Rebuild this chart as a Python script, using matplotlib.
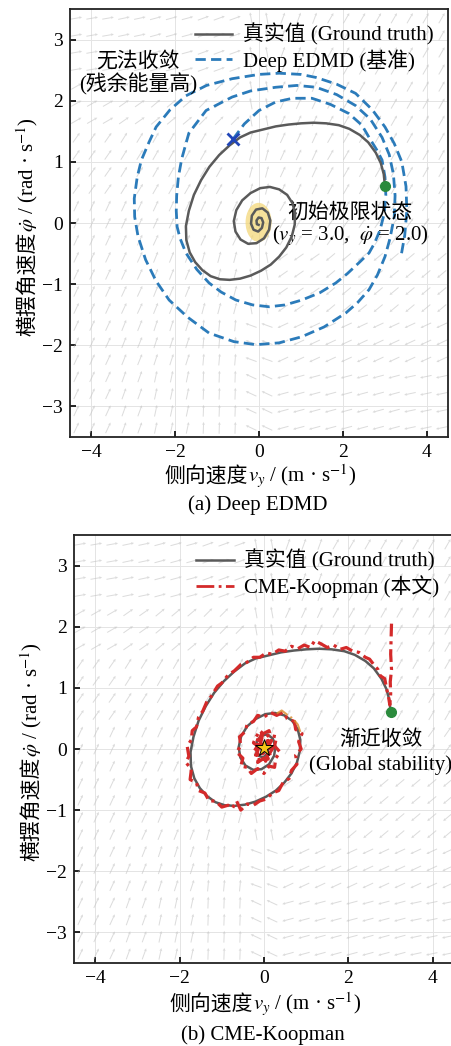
import numpy as np
import matplotlib
matplotlib.use('Agg')
import matplotlib.pyplot as plt
from matplotlib.patches import Ellipse
from matplotlib.lines import Line2D

plt.rcParams['font.family'] = ['Liberation Serif', 'Noto Sans CJK SC']
plt.rcParams['mathtext.fontset'] = 'stix'
plt.rcParams['axes.unicode_minus'] = True

W, H = 452, 1046

# ground truth trajectory (v_y, yaw rate)
GT_VY = [3.00, 2.97, 2.90, 2.78, 2.60, 2.40, 2.15, 1.90, 1.60, 1.30,
         1.00, 0.70, 0.40, 0.10, -0.20, -0.45, -0.70, -0.95, -1.18, -1.38,
         -1.55, -1.67, -1.74, -1.73, -1.65, -1.52, -1.35, -1.15, -0.93, -0.70,
         -0.45, -0.20, 0.05, 0.28, 0.48, 0.65, 0.78, 0.85, 0.86, 0.80,
         0.67, 0.48, 0.26, 0.03, -0.20, -0.40, -0.54, -0.60, -0.56, -0.44,
         -0.26, -0.06, 0.12, 0.24, 0.27, 0.21, 0.08, -0.07, -0.17, -0.19,
         -0.13, -0.02, 0.07, 0.10, 0.06, -0.01, -0.06, -0.05, -0.01]
GT_R = [0.60, 0.80, 0.98, 1.15, 1.32, 1.44, 1.54, 1.60, 1.63, 1.64,
        1.63, 1.61, 1.58, 1.53, 1.48, 1.40, 1.27, 1.11, 0.92, 0.70,
        0.46, 0.20, -0.05, -0.28, -0.48, -0.64, -0.77, -0.87, -0.92, -0.93,
        -0.91, -0.86, -0.78, -0.68, -0.55, -0.40, -0.22, -0.03, 0.15, 0.32,
        0.46, 0.55, 0.59, 0.57, 0.49, 0.37, 0.21, 0.03, -0.14, -0.27,
        -0.34, -0.33, -0.25, -0.11, 0.04, 0.17, 0.24, 0.22, 0.12, -0.01,
        -0.11, -0.14, -0.08, 0.01, 0.08, 0.09, 0.04, -0.02, -0.03]

# Deep EDMD prediction (diverging spiral)
ED_VY = [-0.62, -0.35, 0.00, 0.40, 0.80, 1.26, 1.70, 2.14, 2.45, 2.62,
         2.80, 2.93, 3.00, 3.02, 2.98, 2.88, 2.75, 2.62, 2.38, 2.10,
         1.83, 1.45, 1.02, 0.62, 0.24, -0.15, -0.55, -0.90, -1.19, -1.48,
         -1.74, -1.88, -1.95, -1.97, -1.96, -1.92, -1.84, -1.67, -1.26, -0.64,
         -0.20, 0.40, 0.90, 1.36, 1.85, 2.30, 2.65, 2.93, 3.10, 3.20,
         3.24, 3.22, 3.12, 3.00, 2.82, 2.62, 2.35, 2.07, 1.55, 1.02,
         0.48, -0.07, -0.60, -1.19, -1.70, -2.14, -2.45, -2.70, -2.88, -2.96,
         -2.97, -2.90, -2.80, -2.62, -2.45, -2.12, -1.74, -1.25, -0.64, 0.00,
         0.48, 1.00, 1.36, 1.85, 2.30, 2.70, 3.00, 3.22, 3.40, 3.50,
         3.52, 3.47, 3.38]
ED_R = [1.37, 1.62, 1.84, 1.98, 2.04, 2.04, 1.94, 1.79, 1.60, 1.40,
        1.20, 1.03, 0.75, 0.45, 0.15, -0.12, -0.33, -0.49, -0.65, -0.83,
        -0.98, -1.14, -1.26, -1.34, -1.37, -1.34, -1.26, -1.13, -0.98, -0.76,
        -0.49, -0.25, -0.06, 0.20, 0.45, 0.75, 1.05, 1.47, 1.84, 2.06,
        2.16, 2.22, 2.25, 2.22, 2.10, 1.92, 1.70, 1.40, 1.12, 0.80,
        0.45, 0.10, -0.25, -0.55, -0.85, -1.09, -1.30, -1.47, -1.70, -1.86,
        -1.96, -1.99, -1.94, -1.80, -1.54, -1.26, -0.95, -0.60, -0.22, 0.10,
        0.40, 0.75, 1.03, 1.32, 1.57, 1.85, 2.08, 2.25, 2.36, 2.43,
        2.45, 2.43, 2.38, 2.27, 2.12, 1.85, 1.57, 1.30, 1.00, 0.60,
        0.20, -0.20, -0.55]

# CME-Koopman prediction (noisy)
CK_VY = [3.02, 3.01, 3.00, 3.02, 2.99, 3.00, 2.98, 2.95, 2.90, 2.86,
         2.75, 2.70, 2.60, 2.50, 2.40, 2.25, 2.10, 1.95, 1.80, 1.65,
         1.50, 1.35, 1.20, 1.10, 0.95, 0.80, 0.65, 0.50, 0.35, 0.20,
         0.05, -0.10, -0.25, -0.40, -0.55, -0.70, -0.85, -1.00, -1.10, -1.25,
         -1.35, -1.45, -1.55, -1.60, -1.70, -1.72, -1.82, -1.78, -1.85, -1.72,
         -1.75, -1.60, -1.55, -1.40, -1.30, -1.15, -1.00, -0.85, -0.75, -0.65,
         -0.55, -0.40, -0.25, -0.10, 0.05, 0.20, 0.35, 0.45, 0.60, 0.65,
         0.78, 0.75, 0.88, 0.82, 0.90, 0.75, 0.72, 0.55, 0.45, 0.30,
         0.15, 0.00, -0.15, -0.25, -0.40, -0.45, -0.58, -0.55, -0.65, -0.50,
         -0.55, -0.40, -0.30, -0.15, 0.00, 0.12, 0.25, 0.28, 0.38, 0.25,
         0.30, 0.15, 0.12, -0.02, -0.10, -0.20, -0.25, -0.15, -0.25, -0.12,
         -0.15, 0.00, 0.08, 0.12, 0.20, 0.10, 0.15, 0.02, -0.05, -0.10,
         0.20, 0.12, 0.18, 0.06, 0.10, -0.02, -0.06, -0.12, -0.20, -0.16,
         -0.24, -0.14, -0.20, -0.10, -0.12, -0.02, 0.04, 0.08, 0.16, 0.12,
         0.20, 0.08, 0.12, 0.02, -0.04, -0.08, -0.14, -0.10, -0.04, 0.04,
         0.06, -0.02, 0.00]
CK_R = [2.05, 1.80, 1.55, 1.30, 1.10, 0.90, 0.72, 0.85, 1.00, 1.15,
        1.20, 1.30, 1.38, 1.47, 1.50, 1.58, 1.60, 1.66, 1.63, 1.70,
        1.66, 1.72, 1.77, 1.66, 1.70, 1.64, 1.68, 1.60, 1.62, 1.55,
        1.57, 1.50, 1.50, 1.42, 1.38, 1.28, 1.21, 1.08, 1.03, 0.86,
        0.78, 0.62, 0.52, 0.36, 0.30, 0.15, 0.05, -0.12, -0.22, -0.33,
        -0.50, -0.55, -0.68, -0.72, -0.85, -0.85, -0.95, -0.92, -0.97, -0.85,
        -1.00, -0.90, -0.92, -0.85, -0.82, -0.72, -0.68, -0.55, -0.48, -0.35,
        -0.25, -0.10, 0.00, 0.12, 0.25, 0.32, 0.45, 0.50, 0.60, 0.55,
        0.60, 0.52, 0.55, 0.45, 0.40, 0.28, 0.20, 0.05, -0.05, -0.15,
        -0.28, -0.30, -0.40, -0.32, -0.40, -0.28, -0.30, -0.15, -0.05, 0.05,
        0.20, 0.22, 0.30, 0.25, 0.30, 0.18, 0.10, 0.05, -0.05, -0.12,
        -0.22, -0.15, -0.22, -0.08, 0.00, 0.05, 0.15, 0.12, 0.18, 0.05,
        0.00, 0.06, 0.14, 0.12, 0.22, 0.18, 0.24, 0.14, 0.16, 0.06,
        0.02, -0.02, -0.10, -0.08, -0.18, -0.12, -0.20, -0.10, -0.14, -0.04,
        0.04, 0.02, 0.12, 0.08, 0.14, 0.04, 0.08, -0.02, -0.08, -0.04,
        0.04, 0.02, -0.02]

# short orange stretch seen on the inner loop of panel (b)
OR_VY = [0.30, 0.42, 0.55, 0.68, 0.80, 0.86]
OR_R = [0.58, 0.63, 0.56, 0.50, 0.40, 0.28]

START = (3.0, 0.6)
EDMD_MARK = (-0.62, 1.37)

# background vector field: line orientation (deg) read per unit cell
FIELD_X = [-4, -3, -2, -1, 0, 1, 2, 3, 4]
FIELD_Y = [3, 2, 1, 0, -1, -2, -3]
FIELD_ANG = [
    [10, 12, 15, 20, 100, 70, 60, 60, 60],
    [30, 35, 40, 45, 100, 65, 60, 60, 60],
    [55, 58, 60, 60, 75, 65, 60, 60, 60],
    [65, 65, 65, 65, 70, 60, 55, 55, 55],
    [65, 65, 68, 75, 100, 215, 220, 220, 220],
    [65, 68, 72, 85, 160, 205, 205, 205, 205],
    [65, 70, 78, 88, 155, 195, 195, 195, 192],
]

GRAY = '#5a5a5a'
BLUE = '#2b7bba'
RED = '#d42a2a'
GREEN = '#2a8a3c'
RED_LS = (0, (4, 1.5, 1, 1.5))


def draw_field(ax):
    gx, gy = np.meshgrid(np.linspace(-4.35, 4.35, 24), np.linspace(-3.35, 3.35, 25))
    ix = np.clip(np.rint(gx - FIELD_X[0]).astype(int), 0, len(FIELD_X) - 1)
    iy = np.clip(np.rint(FIELD_Y[0] - gy).astype(int), 0, len(FIELD_Y) - 1)
    ang = np.radians(np.array(FIELD_ANG)[iy, ix])
    ax.quiver(gx, gy, np.cos(ang), np.sin(ang), angles='uv', scale_units='inches',
              scale=8.5, pivot='middle', width=0.0026, headwidth=3, headlength=3,
              headaxislength=2.6, color='#c4c4c4', alpha=0.6, zorder=1)


def setup(ax):
    ax.set_xlim(-4.5, 4.5)
    ax.set_ylim(-3.5, 3.5)
    ax.set_xticks([-4, -2, 0, 2, 4])
    ax.set_yticks([-3, -2, -1, 0, 1, 2, 3])
    ax.grid(True, color='#e4e4e4', lw=0.7, zorder=0)
    ax.set_axisbelow(True)
    ax.tick_params(direction='in', length=4, width=1.2, labelsize=14, pad=5)
    for s in ax.spines.values():
        s.set_linewidth(1.3)
        s.set_color('#222222')
    draw_field(ax)


def axis_labels(fig, xsplit, xbase, ysplit, ybase):
    fig.text(xsplit / W, 1 - xbase / H, '侧向速度', ha='right', va='baseline', fontsize=15)
    fig.text(xsplit / W, 1 - xbase / H, r'$v_y$ / (m · s$^{-1}$)', ha='left',
             va='baseline', fontsize=15, math_fontfamily='stix')
    fig.text(ybase / W, 1 - ysplit / H, '横摆角速度', ha='right', va='baseline',
             fontsize=15, rotation=90, rotation_mode='anchor')
    fig.text(ybase / W, 1 - ysplit / H, r'$\dot{\varphi}$ / (rad · s$^{-1}$)', ha='left',
             va='baseline', fontsize=15, rotation=90, rotation_mode='anchor',
             math_fontfamily='stix')


fig = plt.figure(figsize=(W / 100, H / 100), dpi=100)

# ---------- (a) Deep EDMD ----------
ax1 = fig.add_axes([70 / W, 1 - 437 / H, 378 / W, 428 / H])
setup(ax1)
ax1.add_patch(Ellipse((-0.01, 0.01), 0.62, 0.64, color='#f3d77a', alpha=0.75, lw=0, zorder=2))
ax1.plot(ED_VY, ED_R, color=BLUE, lw=2.0, ls=(0, (3.7, 1.9)), zorder=3)
ax1.plot(GT_VY, GT_R, color=GRAY, lw=1.8, zorder=4)
ax1.plot(*START, 'o', color=GREEN, ms=7, zorder=5)
ax1.plot(*EDMD_MARK, 'x', color='#2146b8', ms=9, mew=2, zorder=5)
ax1.legend(handles=[Line2D([], [], color=GRAY, lw=1.8),
                    Line2D([], [], color=BLUE, lw=2.0, ls=(0, (3.7, 1.9)))],
           labels=['真实值 (Ground truth)', 'Deep EDMD (基准)'],
           loc='upper right', frameon=False, fontsize=15, handlelength=1.8,
           handletextpad=0.5, labelspacing=0.15, borderaxespad=0.3)
ax1.text(-2.88, 2.44, '无法收敛\n(残余能量高)', ha='center', va='center', fontsize=15,
         linespacing=1.05)
ax1.text(2.17, 0.17, '初始极限状态', ha='center', va='center', fontsize=15)
ax1.text(2.17, -0.2, r'($v_y$ = 3.0,  $\dot{\varphi}$ = 2.0)', ha='center', va='center',
         fontsize=15, math_fontfamily='stix')
axis_labels(fig, 248, 482, 232, 33)
fig.text(258 / W, 1 - 510 / H, '(a) Deep EDMD', ha='center', va='baseline', fontsize=15)

# ---------- (b) CME-Koopman ----------
ax2 = fig.add_axes([74 / W, 1 - 963 / H, 380 / W, 428 / H])
setup(ax2)
ax2.plot(GT_VY, GT_R, color=GRAY, lw=1.8, zorder=3)
ax2.plot(CK_VY, CK_R, color=RED, lw=2.3, ls=RED_LS, zorder=4)
ax2.plot(OR_VY, OR_R, color='#d98a2b', lw=1.5, ls='-.', alpha=0.8, zorder=5)
ax2.plot(*START, 'o', color=GREEN, ms=7, zorder=6)
ax2.plot(0.0, 0.02, '*', color='#f5c518', mec='k', mew=0.7, ms=13, zorder=7)
ax2.legend(handles=[Line2D([], [], color=GRAY, lw=1.8),
                    Line2D([], [], color=RED, lw=2.0, ls='-.')],
           labels=['真实值 (Ground truth)', 'CME-Koopman (本文)'],
           loc='upper right', frameon=False, fontsize=15, handlelength=1.8,
           handletextpad=0.5, labelspacing=0.15, borderaxespad=0.3)
ax2.text(2.76, 0.15, '渐近收敛', ha='center', va='center', fontsize=15)
ax2.text(2.76, -0.27, '(Global stability)', ha='center', va='center', fontsize=15)
axis_labels(fig, 253, 1010, 757, 37)
fig.text(263 / W, 1 - 1040 / H, '(b) CME-Koopman', ha='center', va='baseline', fontsize=15)

fig.savefig('out.png', dpi=100)
